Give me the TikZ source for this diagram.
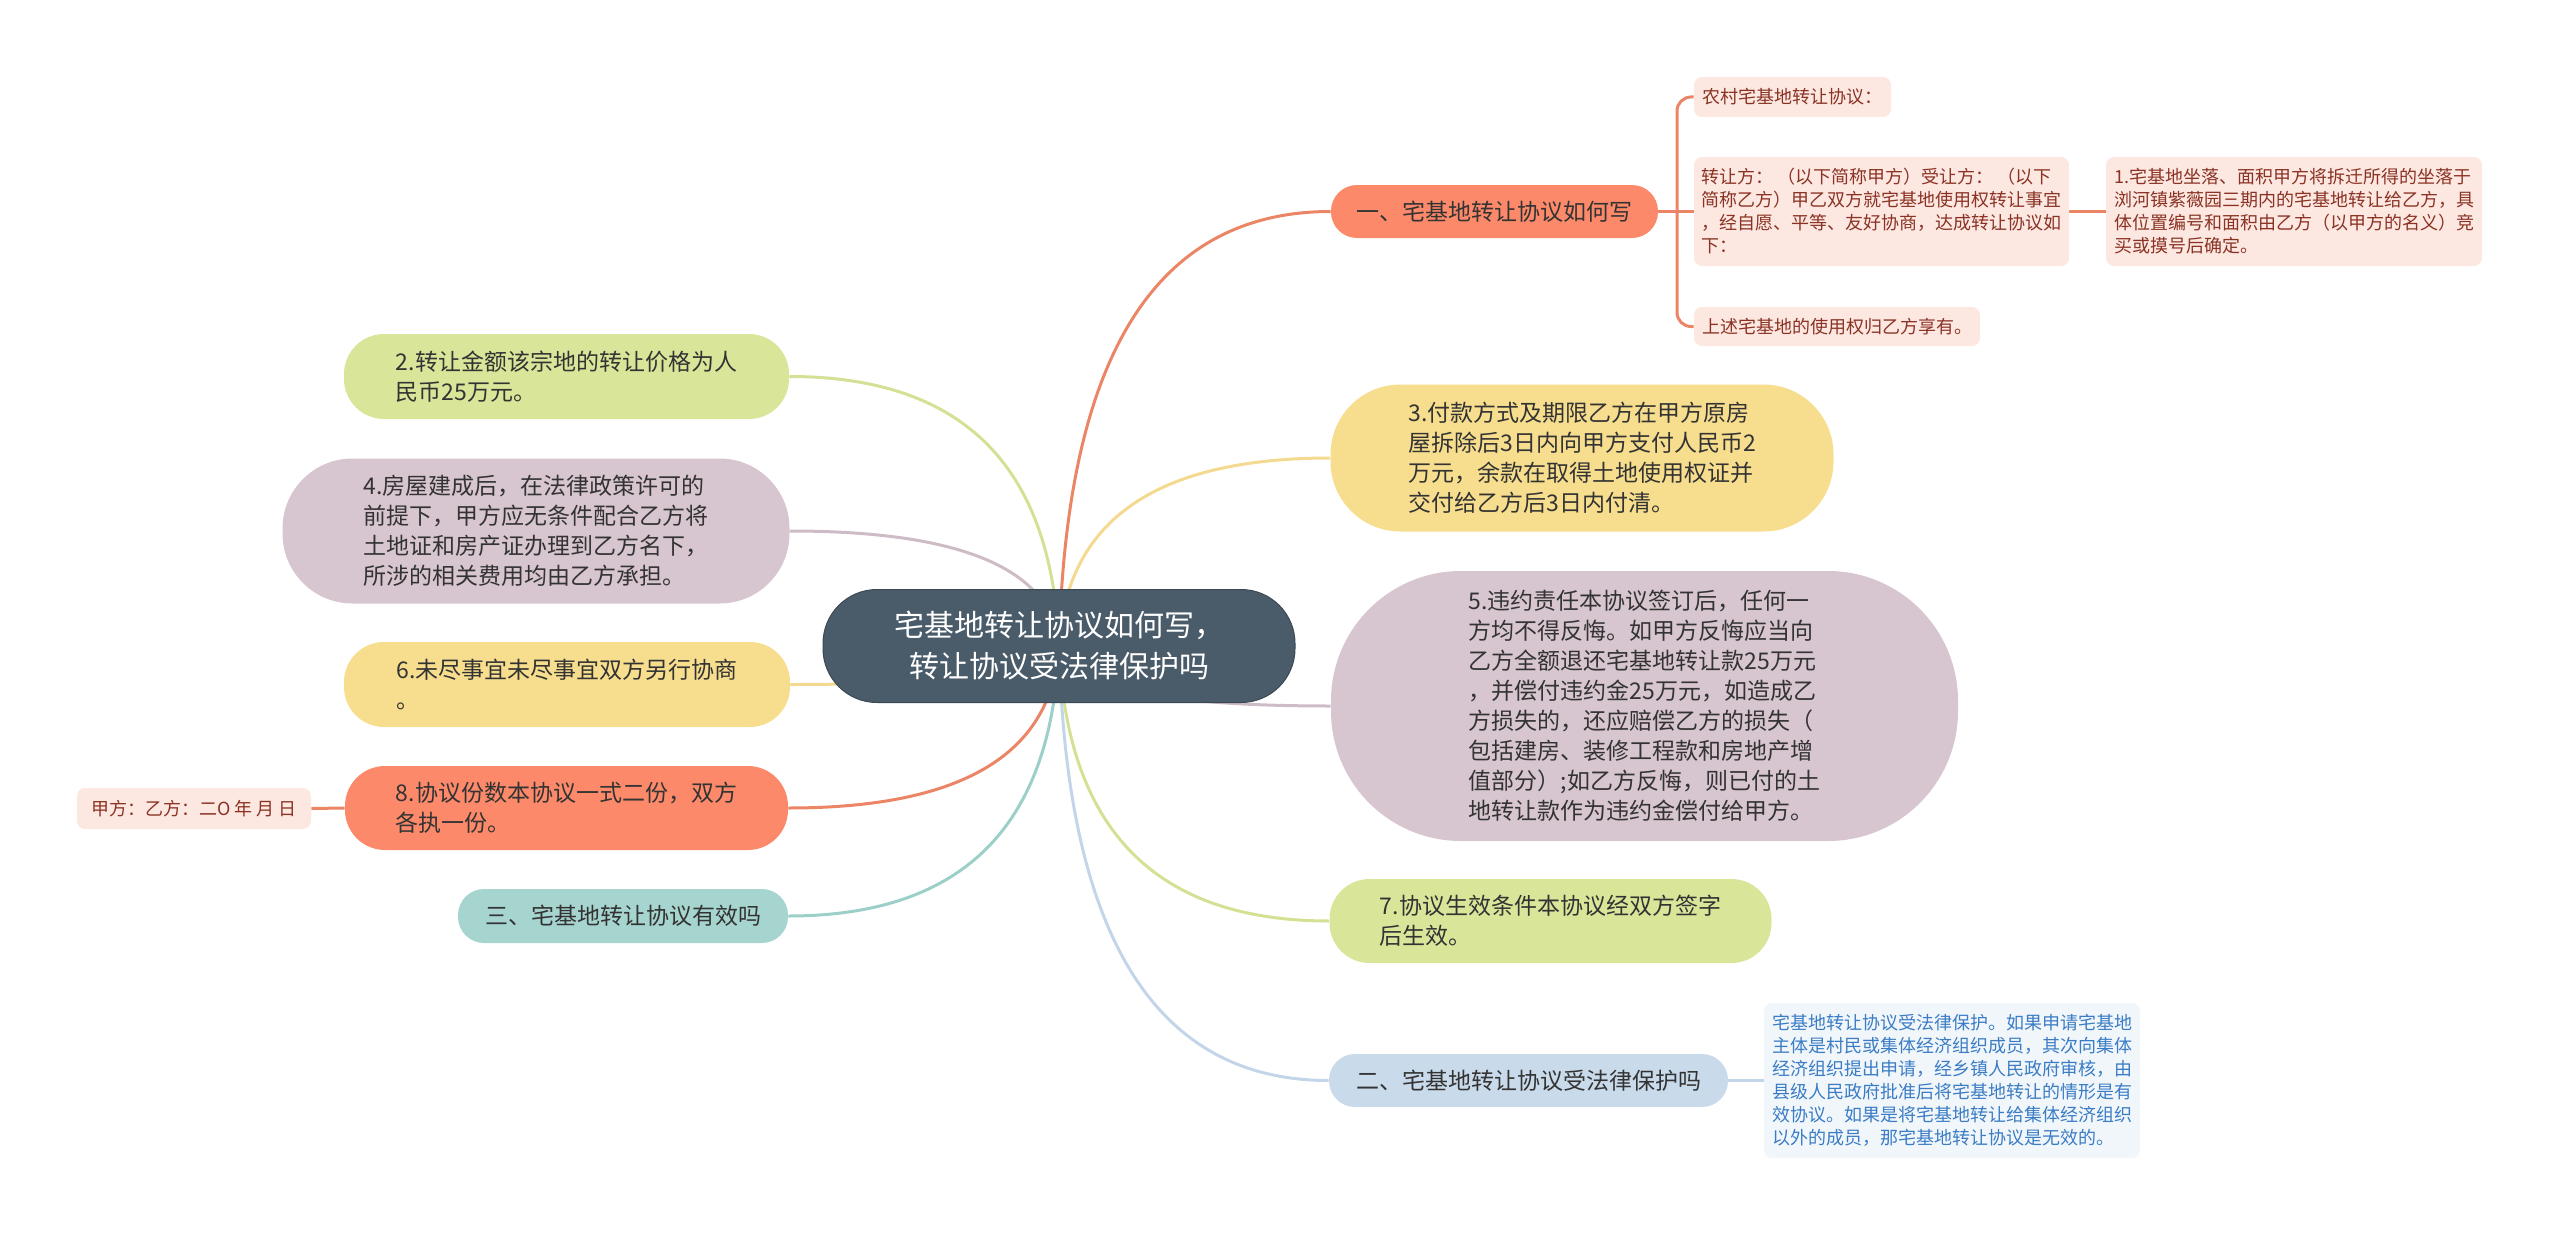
\documentclass[tikz,border=0pt]{standalone}
\usepackage{fontspec}
\setmainfont{Noto Sans CJK SC}
\usetikzlibrary{backgrounds}

\definecolor{rootfill}{HTML}{4A5B6A}
\definecolor{coralfill}{HTML}{FC8A6A}
\definecolor{coralline}{HTML}{EB8566}
\definecolor{yellowfill}{HTML}{F7DE8E}
\definecolor{yellowline}{HTML}{F3DA90}
\definecolor{mauvefill}{HTML}{D7C5CF}
\definecolor{mauveline}{HTML}{CDBBC6}
\definecolor{greenfill}{HTML}{D9E69A}
\definecolor{greenline}{HTML}{D3E194}
\definecolor{bluefill}{HTML}{C9DAEB}
\definecolor{blueline}{HTML}{C3D5E8}
\definecolor{tealfill}{HTML}{A6D5CF}
\definecolor{tealline}{HTML}{9DCFC9}
\definecolor{pinkleaf}{HTML}{FDE7E1}
\definecolor{pinktext}{HTML}{8A3324}
\definecolor{paleblue}{HTML}{F1F6FB}
\definecolor{bluetext}{HTML}{3B7DC4}
\definecolor{darktext}{HTML}{333333}

\newcommand\rootfont{\fontsize{15pt}{20.5pt}\selectfont}
\newcommand\topicfont{\fontsize{11.5pt}{15pt}\selectfont}
\newcommand\leaffont{\fontsize{9pt}{11.5pt}\selectfont}

\begin{document}
\begin{tikzpicture}[x=0.5pt,y=-0.5pt,line cap=round,line join=round,
  topic/.style={rectangle,inner sep=0pt,align=left,text=darktext,font=\topicfont},
  leaf/.style={rectangle,rounded corners=4pt,inner sep=0pt,align=left,font=\leaffont},
  link/.style={line width=1.5pt}]
  \useasboundingbox (0,0) rectangle (2560,1236);

  % centre
  \node[rectangle,fill=rootfill,draw=rootfill!80!black,line width=0.5pt,rounded corners=27pt,
    minimum width=236pt,minimum height=56.5pt,inner sep=0pt,align=center,text=white,font=\rootfont]
    (root) at (1059,646) {宅基地转让协议如何写，\\转让协议受法律保护吗};

  % right side
  \node[topic,fill=coralfill,minimum width=163.5pt,minimum height=26.5pt,rounded corners=13pt,align=center]
    (yi) at (1494.5,211.5) {一、宅基地转让协议如何写};
  \node[topic,fill=yellowfill,minimum width=251.5pt,minimum height=73.5pt,rounded corners=35pt]
    (n3) at (1582,458) {3.付款方式及期限乙方在甲方原房\\屋拆除后3日内向甲方支付人民币2\\万元，余款在取得土地使用权证并\\交付给乙方后3日内付清。};
  \node[topic,fill=mauvefill,minimum width=313.5pt,minimum height=135pt,rounded corners=65pt]
    (n5) at (1644.5,706) {5.违约责任本协议签订后，任何一\\方均不得反悔。如甲方反悔应当向\\乙方全额退还宅基地转让款25万元\\，并偿付违约金25万元，如造成乙\\方损失的，还应赔偿乙方的损失（\\包括建房、装修工程款和房地产增\\值部分）;如乙方反悔，则已付的土\\地转让款作为违约金偿付给甲方。};
  \node[topic,fill=greenfill,minimum width=221pt,minimum height=42pt,rounded corners=20pt]
    (n7) at (1550.5,921) {7.协议生效条件本协议经双方签字\\后生效。};
  \node[topic,fill=bluefill,minimum width=199.5pt,minimum height=26.5pt,rounded corners=13pt,align=center]
    (er) at (1528.5,1080.5) {二、宅基地转让协议受法律保护吗};

  % left side
  \node[topic,fill=greenfill,minimum width=222.5pt,minimum height=42.5pt,rounded corners=20pt]
    (n2) at (566.5,376.5) {2.转让金额该宗地的转让价格为人\\民币25万元。};
  \node[topic,fill=mauvefill,minimum width=253.5pt,minimum height=72.5pt,rounded corners=35pt]
    (n4) at (536,531) {4.房屋建成后，在法律政策许可的\\前提下，甲方应无条件配合乙方将\\土地证和房产证办理到乙方名下，\\所涉的相关费用均由乙方承担。};
  \node[topic,fill=yellowfill,minimum width=223pt,minimum height=42.5pt,rounded corners=20pt]
    (n6) at (567,684.5) {6.未尽事宜未尽事宜双方另行协商\\。};
  \node[topic,fill=coralfill,minimum width=221.5pt,minimum height=42pt,rounded corners=20pt]
    (n8) at (566.5,808) {8.协议份数本协议一式二份，双方\\各执一份。};
  \node[topic,fill=tealfill,minimum width=165pt,minimum height=27pt,rounded corners=13pt,align=center]
    (san) at (623,916) {三、宅基地转让协议有效吗};

  % leaves
  \node[leaf,fill=pinkleaf,text=pinktext,minimum width=98.5pt,minimum height=20pt]
    (l11) at (1792.5,97) {农村宅基地转让协议：};
  \node[leaf,fill=pinkleaf,text=pinktext,minimum width=187.5pt,minimum height=54.5pt]
    (l12) at (1881.5,211.5) {转让方： （以下简称甲方）受让方： （以下\\简称乙方）甲乙双方就宅基地使用权转让事宜\\，经自愿、平等、友好协商，达成转让协议如\\下：};
  \node[leaf,fill=pinkleaf,text=pinktext,minimum width=143pt,minimum height=19.5pt]
    (l13) at (1837,326.5) {上述宅基地的使用权归乙方享有。};
  \node[leaf,fill=pinkleaf,text=pinktext,minimum width=188pt,minimum height=54.5pt]
    (l14) at (2294,211.5) {1.宅基地坐落、面积甲方将拆迁所得的坐落于\\浏河镇紫薇园三期内的宅基地转让给乙方，具\\体位置编号和面积由乙方（以甲方的名义）竞\\买或摸号后确定。};
  \node[leaf,fill=pinkleaf,text=pinktext,minimum width=117pt,minimum height=20.5pt]
    (lsign) at (194,808.5) {甲方：乙方：二O 年 月 日};
  \node[leaf,fill=paleblue,text=bluetext,minimum width=188pt,minimum height=77.5pt]
    (lblue) at (1952,1080.5) {宅基地转让协议受法律保护。如果申请宅基地\\主体是村民或集体经济组织成员，其次向集体\\经济组织提出申请，经乡镇人民政府审核，由\\县级人民政府批准后将宅基地转让的情形是有\\效协议。如果是将宅基地转让给集体经济组织\\以外的成员，那宅基地转让协议是无效的。};

  \coordinate (yifork) at (1677,211.5);

  \begin{scope}[on background layer]
    \draw[link,coralline] (root.center) .. controls (1065,407) and (1127,211.5) .. (yi.west);
    \draw[link,yellowline] (root.center) .. controls (1065,543) and (1127,458) .. (n3.west);
    \draw[link,mauveline] (root.center) .. controls (1065,679) and (1127,706) .. (n5.west);
    \draw[link,greenline] (root.center) .. controls (1065,797) and (1127,921) .. (n7.west);
    \draw[link,blueline] (root.center) .. controls (1065,885) and (1127,1080.5) .. (er.west);

    \draw[link,greenline] (root.center) .. controls (1053,497.5) and (991,376.5) .. (n2.east);
    \draw[link,mauveline] (root.center) .. controls (1053,583) and (991,531) .. (n4.east);
    \draw[link,yellowline] (root.center) .. controls (1053,667) and (991,684.5) .. (n6.east);
    \draw[link,coralline] (root.center) .. controls (1053,735) and (991,808) .. (n8.east);
    \draw[link,tealline] (root.center) .. controls (1053,794.5) and (991,916) .. (san.east);

    \draw[link,coralline] (yi.east) -- (l12.west);
    \draw[link,coralline,rounded corners=7pt] (l11.west) -| (yifork) |- (l13.west);
    \draw[link,coralline] (l12.east) -- (l14.west);
    \draw[link,coralline] (n8.west) -- (lsign.east);
    \draw[link,blueline] (er.east) -- (lblue.west);
  \end{scope}
\end{tikzpicture}
\end{document}
